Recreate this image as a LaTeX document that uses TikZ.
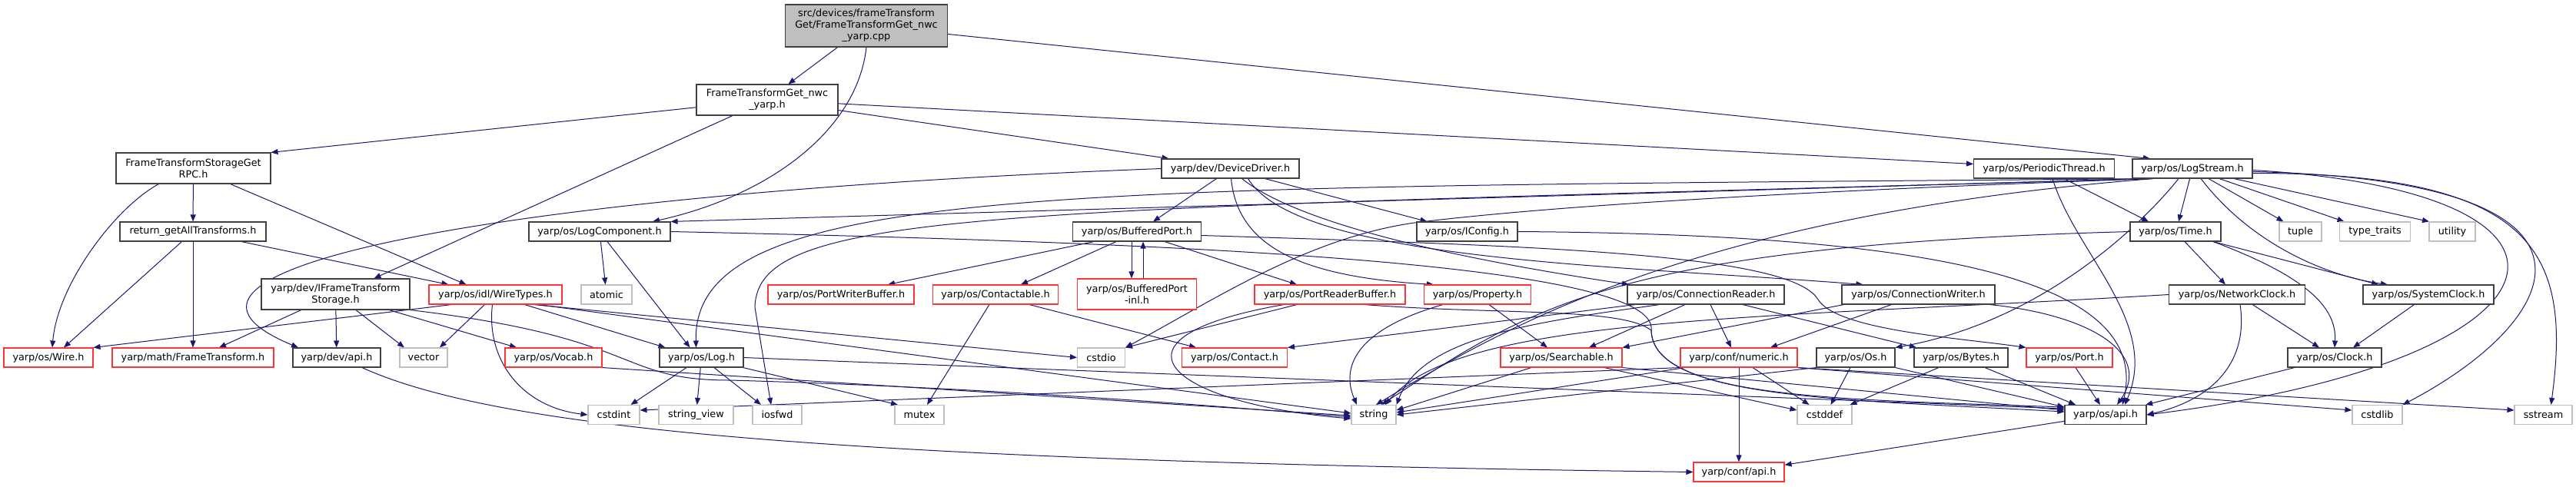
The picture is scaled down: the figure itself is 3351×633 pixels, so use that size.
\documentclass[tikz,border=0pt]{standalone}
\usepackage{fontspec}
\setmainfont{DejaVu Sans}
\usepackage{tikz}
\usetikzlibrary{arrows.meta}
\usetikzlibrary{backgrounds}
\definecolor{edgeblue}{HTML}{191970}
\definecolor{boxgray}{HTML}{404040}
\definecolor{boxred}{HTML}{FF3333}
\definecolor{sysgray}{HTML}{BFBFBF}
\tikzset{
  box/.style={rectangle, draw, line width=1.1pt, fill=white, inner sep=2pt,
    minimum height=25pt, align=center, font=\fontsize{12.8}{15}\selectfont},
  hdr/.style={box, draw=boxgray},
  redhdr/.style={box, draw=boxred},
  sys/.style={box, draw=sysgray},
  root/.style={hdr, fill=sysgray},
  two/.style={minimum height=40pt},
  three/.style={minimum height=55pt},
  link/.style={draw=edgeblue, line width=1pt},
  every edge/.style={link},
  >={Triangle[length=9pt,width=7pt]}
}

\begin{document}
\begin{tikzpicture}[x=1pt, y=-1pt]       % include graph
    \useasboundingbox (0,0) rectangle (3351,633);
    \node[root, three, minimum width=211pt] at (1127,33.5) (cpp) {src/devices/frameTransform\\Get/FrameTransformGet\_nwc\\\_yarp.cpp};
    \node[hdr, two, minimum width=184pt] at (998,130) (nwc) {FrameTransformGet\_nwc\\\_yarp.h};
    \node[hdr, two, minimum width=201pt] at (251.5,219) (rpc) {FrameTransformStorageGet\\RPC.h};
    \node[hdr, minimum width=179pt] at (1600.5,219.5) (devdrv) {yarp/dev/DeviceDriver.h};
    \node[hdr, minimum width=183pt] at (2659,219.5) (perthread) {yarp/os/PeriodicThread.h};
    \node[hdr, minimum width=156pt] at (2852,219.5) (logstream) {yarp/os/LogStream.h};

    \node[hdr, minimum width=190pt] at (251,301.5) (retall) {return\_getAllTransforms.h};
    \node[hdr, minimum width=184pt] at (780,301.5) (logcomp) {yarp/os/LogComponent.h};
    \node[hdr, minimum width=167pt] at (1479,301.5) (bufport) {yarp/os/BufferedPort.h};
    \node[hdr, minimum width=131pt] at (1908.5,301.5) (iconfig) {yarp/os/IConfig.h};
    \node[hdr, minimum width=118pt] at (2830,301.5) (time) {yarp/os/Time.h};
    \node[sys, minimum width=55pt] at (2992.5,301.5) (tuple) {tuple};
    \node[sys, minimum width=92pt] at (3089.5,301.5) (typetraits) {type\_traits};
    \node[sys, minimum width=60pt] at (3190,301.5) (utility) {utility};

    \node[hdr, two, minimum width=193pt] at (436.5,383) (ifts) {yarp/dev/IFrameTransform\\Storage.h};
    \node[redhdr, minimum width=173pt] at (644.5,383.5) (wiretypes) {yarp/os/idl/WireTypes.h};
    \node[sys, minimum width=66pt] at (789,383.5) (atomic) {atomic};
    \node[redhdr, minimum width=190pt] at (1094,383.5) (pwbuf) {yarp/os/PortWriterBuffer.h};
    \node[redhdr, minimum width=163pt] at (1295,383.5) (contactable) {yarp/os/Contactable.h};
    \node[redhdr, two, minimum width=155pt] at (1479,383) (bpinl) {yarp/os/BufferedPort\\-inl.h};
    \node[redhdr, minimum width=196pt] at (1730,383.5) (prbuf) {yarp/os/PortReaderBuffer.h};
    \node[redhdr, minimum width=139pt] at (1922,383.5) (property) {yarp/os/Property.h};
    \node[hdr, minimum width=204pt] at (2219,383.5) (connreader) {yarp/os/ConnectionReader.h};
    \node[hdr, minimum width=199pt] at (2495.5,383.5) (connwriter) {yarp/os/ConnectionWriter.h};
    \node[hdr, minimum width=177pt] at (2910,383.5) (netclock) {yarp/os/NetworkClock.h};
    \node[hdr, minimum width=170pt] at (3159,383.5) (sysclock) {yarp/os/SystemClock.h};

    \node[redhdr, minimum width=116pt] at (63,465.5) (wire) {yarp/os/Wire.h};
    \node[redhdr, minimum width=210pt] at (251,465.5) (frametf) {yarp/math/FrameTransform.h};
    \node[hdr, minimum width=114pt] at (438,465.5) (devapi) {yarp/dev/api.h};
    \node[sys, minimum width=62pt] at (551,465.5) (vector) {vector};
    \node[redhdr, minimum width=126pt] at (720,465.5) (vocab) {yarp/os/Vocab.h};
    \node[hdr, minimum width=109pt] at (912.5,465.5) (log) {yarp/os/Log.h};
    \node[sys, minimum width=62pt] at (1432.5,465.5) (cstdio) {cstdio};
    \node[redhdr, minimum width=137pt] at (1606,465.5) (contact) {yarp/os/Contact.h};
    \node[redhdr, minimum width=158pt] at (2031,465.5) (searchable) {yarp/os/Searchable.h};
    \node[redhdr, minimum width=152pt] at (2262,465.5) (numeric) {yarp/conf/numeric.h};
    \node[hdr, minimum width=102pt] at (2414,465.5) (os) {yarp/os/Os.h};
    \node[hdr, minimum width=122pt] at (2551,465.5) (bytes) {yarp/os/Bytes.h};
    \node[redhdr, minimum width=112pt] at (2692,465.5) (port) {yarp/os/Port.h};
    \node[hdr, minimum width=122pt] at (3037,465.5) (clock) {yarp/os/Clock.h};

    \node[sys, minimum width=67pt] at (798.5,540) (cstdint) {cstdint};
    \node[sys, minimum width=97pt] at (905.5,540) (strview) {string\_view};
    \node[sys, minimum width=64pt] at (1011,540) (iosfwd) {iosfwd};
    \node[sys, minimum width=64pt] at (1196,540) (mutex) {mutex};
    \node[sys, minimum width=58pt] at (1787,540) (string) {string};
    \node[sys, minimum width=71pt] at (2373.5,540) (cstddef) {cstddef};
    \node[hdr, minimum width=106pt] at (2739,540) (osapi) {yarp/os/api.h};
    \node[sys, minimum width=65pt] at (3092.5,540) (cstdlib) {cstdlib};
    \node[sys, minimum width=75pt] at (3308.5,540) (sstream) {sstream};
    \node[redhdr, minimum width=118pt] at (2262,614.5) (confapi) {yarp/conf/api.h};

    \begin{scope}[on background layer]
    \fill[white] (0,0) rectangle (3351,633);
    % source file
    \draw (cpp) edge[->] (nwc);
    \draw[link,->] (cpp.south) .. controls (1115,170) and (1000,255) .. ([xshift=69pt]logcomp.north);
    \draw (cpp) edge[->] ([xshift=-55pt]logstream.north);
    % FrameTransformGet_nwc_yarp.h
    \draw (nwc) edge[->] (rpc.north east);
    \draw (nwc) edge[->] ([xshift=50pt]ifts.north);
    \draw (nwc) edge[->] ([xshift=-80pt]devdrv.north);
    \draw (nwc) edge[->] ([yshift=6pt]perthread.west);
    % FrameTransformStorageGetRPC.h
    \draw (rpc) edge[->] (retall);
    \draw[link,->] ([xshift=-45pt]rpc.south) .. controls (150,270) and (75,370) .. ([xshift=5pt]wire.north);
    \draw (rpc) edge[->] ([xshift=-38pt]wiretypes.north);
    \draw (retall) edge[->] ([xshift=20pt]wire.north);
    \draw (retall) edge[->] (frametf);
    \draw (retall) edge[->] ([xshift=-61pt]wiretypes.north);
    % IFrameTransformStorage.h
    \draw (ifts) edge[->] ([xshift=34pt]frametf.north);
    \draw (ifts) edge[->] (devapi);
    \draw (ifts) edge[->] ([xshift=-25pt]vector.north);
    \draw (ifts) edge[->] ([xshift=-48pt]vocab.north);
    \draw[link,->] (ifts.south east) .. controls (840,440) and (800,495) .. (950,495) .. controls (1300,505) and (1600,530) .. ([yshift=-3pt]string.west);
    \draw (vocab.south east) edge[->] ([yshift=-1pt]string.west);
    % WireTypes.h
    \draw ([xshift=-57pt]wiretypes.south) edge[->] (wire.north east);
    \draw ([xshift=-14pt]wiretypes.south) edge[->] ([xshift=21pt]vector.north);
    \draw[link,->] ([xshift=-4pt]wiretypes.south) .. controls (632,470) and (680,530) .. (cstdint.west);
    \draw ([xshift=38pt]wiretypes.south) edge[->] ([xshift=-47pt]log.north);
    \draw ([xshift=50pt]wiretypes.south) edge[->] (cstdio.west);
    \draw ([xshift=56pt]wiretypes.south) edge[->] ([yshift=2pt]string.west);
    % LogComponent.h and Log.h
    \draw (logcomp) edge[->] (atomic);
    \draw ([xshift=10pt]logcomp.south) edge[->] ([xshift=-15pt]log.north);
    \draw[link,->] (logcomp.east) .. controls (1500,315) and (2160,340) .. (2148,430) .. controls (2150,520) and (2400,520) .. ([yshift=10pt]osapi.west);
    \draw (log) edge[->] ([xshift=22pt]cstdint.north);
    \draw (log) edge[->] (strview);
    \draw (log) edge[->] ([xshift=-21pt]iosfwd.north);
    \draw (log) edge[->] ([xshift=-28pt]mutex.north);
    \draw (log.east) edge[->] ([yshift=8pt]osapi.west);
    % DeviceDriver.h
    \draw[link,->] (devdrv.west) .. controls (700,250) and (130,345) .. ([xshift=-50pt]devapi.north);
    \draw ([xshift=-18pt]devdrv.south) edge[->] ([xshift=21pt]bufport.north);
    \draw[link,->] ([xshift=1pt]devdrv.south) .. controls (1610,320) and (1690,360) .. ([xshift=-57pt]property.north);
    \draw[link,->] ([xshift=15pt]devdrv.south) .. controls (1700,300) and (1950,345) .. ([xshift=-100pt]connreader.north);
    \draw[link,->] ([xshift=23pt]devdrv.south) .. controls (1690,340) and (2100,345) .. ([xshift=-72pt]connwriter.north);
    \draw ([xshift=45pt]devdrv.south) edge[->] ([xshift=-52pt]iconfig.north);
    % BufferedPort.h
    \draw ([xshift=-56pt]bufport.south) edge[->] ([xshift=61pt]pwbuf.north);
    \draw ([xshift=-27pt]bufport.south) edge[->] ([xshift=33pt]contactable.north);
    \draw ([xshift=-7pt]bufport.south) edge[->] ([xshift=-7pt]bpinl.north);
    \draw ([xshift=8pt]bpinl.north) edge[->] ([xshift=8pt]bufport.south);
    \draw ([xshift=36pt]bufport.south) edge[->] ([xshift=-43pt]prbuf.north);
    \draw[link,->] ([yshift=-5pt]bufport.east) .. controls (2000,320) and (2330,330) .. (2365,390) .. controls (2390,430) and (2550,440) .. (port.north west);
    \draw (contactable) edge[->] ([xshift=10pt]mutex.north);
    \draw ([xshift=44pt]contactable.south) edge[->] ([xshift=-50pt]contact.north);
    % PortReaderBuffer.h and Property.h
    \draw ([xshift=-43pt]prbuf.south) edge[->] (cstdio.north east);
    \draw[link,->] ([xshift=-60pt]prbuf.south) .. controls (1420,440) and (1520,525) .. ([yshift=-5pt]string.west);
    \draw[link,->] ([xshift=45pt]prbuf.south) .. controls (1950,410) and (2110,400) .. (2148,430) .. controls (2150,520) and (2400,520) .. ([yshift=4pt]osapi.west);
    \draw[link,->] ([xshift=-45pt]property.south) .. controls (1760,430) and (1745,480) .. ([xshift=-22pt]string.north);
    \draw ([xshift=15pt]property.south) edge[->] ([xshift=-18pt]searchable.north);
    % ConnectionReader.h and ConnectionWriter.h
    \draw ([xshift=-92pt]connreader.south) edge[->] (contact.north east);
    \draw[link,->] ([xshift=-60pt]connreader.south) .. controls (1990,420) and (1850,440) .. (string.north east);
    \draw ([xshift=-27pt]connreader.south) edge[->] ([xshift=36pt]searchable.north);
    \draw ([xshift=6pt]connreader.south) edge[->] ([xshift=-10pt]numeric.north);
    \draw ([xshift=48pt]connreader.south) edge[->] ([xshift=-58pt]bytes.north);
    \draw ([xshift=-97pt]connwriter.south) edge[->] (searchable.north east);
    \draw ([xshift=-35pt]connwriter.south) edge[->] ([xshift=41pt]numeric.north);
    \draw[link,->] ([xshift=93pt]connwriter.south) .. controls (2720,410) and (2800,460) .. ([xshift=15pt]osapi.north);
    % Searchable.h, numeric.h, Os.h, Bytes.h, Port.h
    \draw ([xshift=-39pt]searchable.south) edge[->] ([yshift=6pt]string.east);
    \draw ([xshift=56pt]searchable.south) edge[->] ([yshift=6pt]cstddef.west);
    \draw (searchable.south east) edge[->] ([yshift=6pt]osapi.west);
    \draw (numeric) edge[->] (confapi);
    \draw ([xshift=-70pt]numeric.south) edge[->] ([yshift=3pt]string.east);
    \draw ([xshift=18pt]numeric.south) edge[->] ([xshift=-20pt]cstddef.north);
    \draw (numeric.south west) edge[->] ([yshift=6pt]cstdint.east);
    \draw (numeric.south east) edge[->] ([yshift=6pt]cstdlib.west);
    \draw (numeric.south east) edge[->] ([yshift=6pt]sstream.west);
    \draw (os.south west) edge[->] (string.east);
    \draw ([xshift=-7pt]os.south) edge[->] ([xshift=8pt]cstddef.north);
    \draw (os.south east) edge[->] ([yshift=10pt]osapi.west);
    \draw ([xshift=-29pt]bytes.south) edge[->] ([xshift=33pt]cstddef.north);
    \draw ([xshift=31pt]bytes.south) edge[->] ([xshift=-39pt]osapi.north);
    \draw ([xshift=8pt]port.south) edge[->] ([xshift=-7pt]osapi.north);
    % LogStream.h
    \draw ([xshift=20pt]logstream.south west) edge[->] (logcomp.north east);
    \draw[link,->] ([xshift=22pt]logstream.south west) .. controls (1400,245) and (900,235) .. ([xshift=-7pt]log.north);
    \draw[link,->] ([xshift=24pt]logstream.south west) .. controls (1300,275) and (985,270) .. (982,400) -- ([xshift=-8pt]iosfwd.north);
    \draw[link,->] ([xshift=26pt]logstream.south west) .. controls (2300,250) and (2000,270) .. (1840,290) .. controls (1700,310) and (1580,390) .. (cstdio.north east);
    \draw[link,->] ([xshift=28pt]logstream.south west) .. controls (2200,280) and (1950,430) .. ([xshift=3pt]string.north);
    \draw[link,->] ([xshift=-18pt]logstream.south) .. controls (2780,300) and (2650,420) .. (os.north east);
    \draw (logstream) edge[->] ([xshift=4pt]time.north);
    \draw[link,->] ([xshift=11pt]logstream.south) .. controls (2930,320) and (3030,360) .. ([xshift=-53pt]sysclock.north);
    \draw ([xshift=21pt]logstream.south) edge[->] ([xshift=-22pt]tuple.north);
    \draw ([xshift=35pt]logstream.south) edge[->] ([xshift=-40pt]typetraits.north);
    \draw ([xshift=54pt]logstream.south) edge[->] ([xshift=-30pt]utility.north);
    \draw[link,->] ([yshift=-2pt]logstream.east) .. controls (3420,250) and (3360,470) .. (osapi.east);
    \draw[link,->] ([yshift=-4pt]logstream.east) .. controls (3440,235) and (3330,420) .. (cstdlib.north east);
    \draw[link,->] ([yshift=-6pt]logstream.east) .. controls (3300,225) and (3345,330) .. ([xshift=10pt]sstream.north);
    % PeriodicThread.h, Time.h and the clocks
    \draw ([xshift=26pt]perthread.south) edge[->] ([xshift=-35pt]time.north);
    \draw[link,->] ([xshift=11pt]perthread.south) .. controls (2700,330) and (2810,420) .. ([xshift=25pt]osapi.north);
    \draw[link,->] (time.west) .. controls (2100,320) and (1990,400) .. ([xshift=10pt]string.north);
    \draw ([xshift=12pt]time.south) edge[->] ([xshift=-15pt]netclock.north);
    \draw ([xshift=49pt]time.south) edge[->] ([xshift=-65pt]sysclock.north);
    \draw[link,->] ([xshift=49pt]time.south) .. controls (3000,360) and (3040,400) .. (clock.north);
    \draw[link,->] (netclock.west) .. controls (2300,415) and (1900,410) .. ([xshift=15pt]string.north);
    \draw (netclock) edge[->] ([xshift=-20pt]clock.north);
    \draw[link,->] ([xshift=4pt]netclock.south) .. controls (2925,470) and (2880,520) .. (osapi.east);
    \draw (sysclock) edge[->] ([xshift=24pt]clock.north);
    \draw (clock) edge[->] (osapi);
    \draw[link,->] (iconfig.east) .. controls (2500,305) and (2800,360) .. ([xshift=22pt]osapi.north);
    % api headers
    \draw[link,->] ([xshift=33pt]devapi.south) .. controls (650,560) and (1100,600) .. (confapi.west);
    \draw (osapi) edge[->] (confapi);
    \end{scope}
\end{tikzpicture}
\end{document}
